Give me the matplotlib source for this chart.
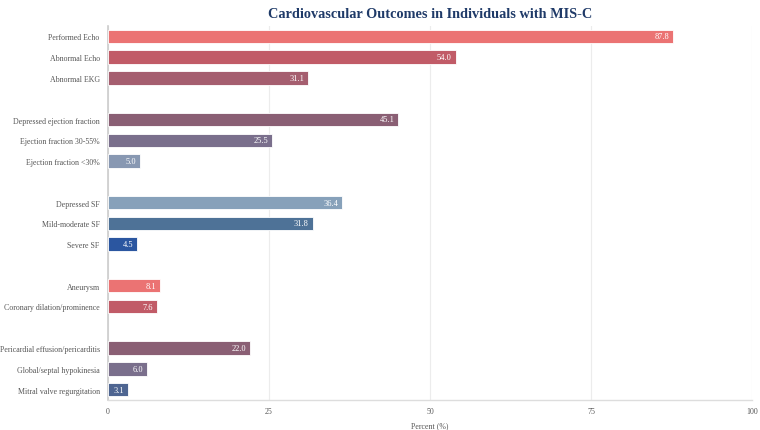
import matplotlib
matplotlib.use("Agg")
import matplotlib.pyplot as plt

categories = ["Performed Echo", "Abnormal Echo", "Abnormal EKG", "",
              "Depressed ejection fraction", "Ejection fraction 30-55%", "Ejection fraction <30%", "",
              "Depressed SF", "Mild-moderate SF", "Severe SF", "",
              "Aneurysm", "Coronary dilation/prominence", "",
              "Pericardial effusion/pericarditis", "Global/septal hypokinesia", "Mitral valve regurgitation"]
values = [87.8, 54.0, 31.1, None,
          45.1, 25.5, 5.0, None,
          36.4, 31.8, 4.5, None,
          8.1, 7.6, None,
          22.0, 6.0, 3.1]
colors = ["#EB7373", "#C15B67", "#A55E6F", None,
          "#8A5F74", "#7A6F8C", "#8898B2", None,
          "#87A1BA", "#4E7297", "#2B56A0", None,
          "#EB7373", "#C15B67", None,
          "#8A5F74", "#7A6F8C", "#4E6591"]
xticks = [0, 25, 50, 75, 100]

plt.rcParams['font.family'] = ['Liberation Serif', 'DejaVu Serif']

fig = plt.figure(figsize=(7.6, 4.31), dpi=100)
ax = fig.add_axes([108/760, 1 - 401/431, (752-108)/760, (401-27)/431])

ys = list(range(len(categories)))
for y, v, c in zip(ys, values, colors):
    if v is None:
        continue
    ax.barh(y, v, height=0.65, color=c, edgecolor="white", linewidth=0.6, zorder=3)
    ax.text(v - 0.6, y, f"{v:.1f}", ha="right", va="center", color="white",
            fontsize=6, zorder=4)

ax.set_ylim(len(categories) - 0.5, -0.5)
ax.set_xlim(0, 100)
ax.set_yticks(ys)
ax.set_yticklabels(categories, fontsize=5.7, color="#555555")
ax.set_xticks(xticks)
ax.set_xticklabels([str(t) for t in xticks], fontsize=5.7, color="#555555")
ax.tick_params(axis="both", length=0)
ax.tick_params(axis="y", pad=6)
ax.tick_params(axis="x", pad=5)
ax.grid(axis="x", color="#ECECEC", linewidth=0.8, zorder=0)
ax.grid(axis="y", visible=False)
for s in ["top", "right"]:
    ax.spines[s].set_visible(False)
ax.spines["left"].set_color("#CCCCCC")
ax.spines["left"].set_linewidth(1.2)
ax.spines["bottom"].set_color("#DDDDDD")
ax.spines["bottom"].set_linewidth(1.0)
ax.set_xlabel("Percent (%)", fontsize=5.7, color="#555555", va="center")
ax.xaxis.set_label_coords(0.5, -25/374)

fig.text(430/760, 1 - 14/431, "Cardiovascular Outcomes in Individuals with MIS-C",
         ha="center", va="center", fontsize=10.3, fontweight="bold", color="#1F3A68")

fig.savefig("out.png", dpi=100)
